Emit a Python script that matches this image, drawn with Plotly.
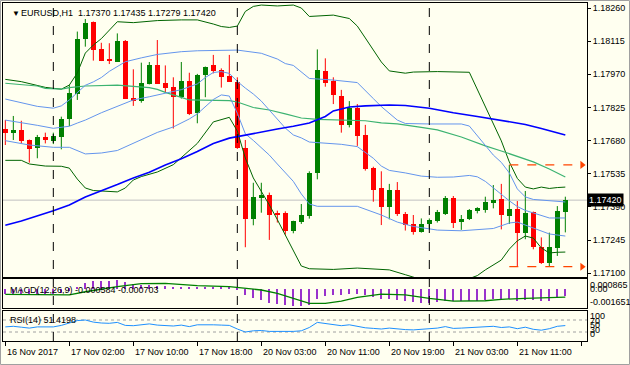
import plotly.graph_objects as go

# ---------------- data ----------------
bars = list(range(71))
open_ = [1.17730, 1.17715, 1.17727, 1.17683, 1.17649, 1.17697, 1.17680, 1.17697, 1.17773, 1.17884,
         1.18123, 1.18199, 1.18079, 1.18036, 1.18025, 1.18117, 1.17867, 1.17855, 1.17928, 1.18011,
         1.17931, 1.17913, 1.17870, 1.17939, 1.17802, 1.17967, 1.18011, 1.17989, 1.17963, 1.17938,
         1.17647, 1.17336, 1.17429, 1.17441, 1.17365, 1.17365, 1.17284, 1.17326, 1.17351, 1.17537,
         1.17986, 1.17941, 1.17875, 1.17749, 1.17824, 1.17705, 1.17562, 1.17472, 1.17392, 1.17464,
         1.17359, 1.17316, 1.17282, 1.17316, 1.17330, 1.17359, 1.17429, 1.17326, 1.17338, 1.17374,
         1.17377, 1.17409, 1.17425, 1.17352, 1.17381, 1.17278, 1.17368, 1.17215, 1.17147, 1.17212,
         1.17370]
high = [1.17770, 1.17788, 1.17767, 1.17685, 1.17705, 1.17715, 1.17715, 1.17785, 1.17923, 1.18157,
        1.18212, 1.18201, 1.18108, 1.18106, 1.18149, 1.18120, 1.17992, 1.18021, 1.18024, 1.18120,
        1.18009, 1.17957, 1.18024, 1.17977, 1.17972, 1.18004, 1.18055, 1.17996, 1.18055, 1.17957,
        1.17683, 1.17496, 1.17496, 1.17453, 1.17374, 1.17371, 1.17330, 1.17403, 1.17546, 1.18079,
        1.18040, 1.17957, 1.17902, 1.17853, 1.17840, 1.17749, 1.17566, 1.17546, 1.17491, 1.17499,
        1.17368, 1.17355, 1.17340, 1.17340, 1.17377, 1.17438, 1.17438, 1.17355, 1.17381, 1.17389,
        1.17435, 1.17486, 1.17491, 1.17574, 1.17416, 1.17460, 1.17370, 1.17257, 1.17278, 1.17394,
        1.17435]
low = [1.17661, 1.17683, 1.17668, 1.17584, 1.17603, 1.17668, 1.17665, 1.17642, 1.17744, 1.17858,
       1.18091, 1.18030, 1.18028, 1.18015, 1.18025, 1.17862, 1.17832, 1.17846, 1.17926, 1.17928,
       1.17890, 1.17733, 1.17864, 1.17792, 1.17756, 1.17870, 1.17974, 1.17912, 1.17938, 1.17644,
       1.17214, 1.17310, 1.17365, 1.17246, 1.17322, 1.17269, 1.17275, 1.17316, 1.17339, 1.17511,
       1.17916, 1.17840, 1.17715, 1.17738, 1.17657, 1.17549, 1.17413, 1.17311, 1.17336, 1.17351,
       1.17287, 1.17269, 1.17278, 1.17292, 1.17322, 1.17355, 1.17298, 1.17290, 1.17333, 1.17362,
       1.17365, 1.17384, 1.17292, 1.17316, 1.17132, 1.17249, 1.17205, 1.17141, 1.17129, 1.17176,
       1.17279]
close = [1.17715, 1.17727, 1.17680, 1.17645, 1.17697, 1.17683, 1.17700, 1.17776, 1.17887, 1.18123,
         1.18193, 1.18076, 1.18030, 1.18027, 1.18114, 1.17864, 1.17855, 1.17931, 1.18011, 1.17928,
         1.17910, 1.17870, 1.17939, 1.17797, 1.17967, 1.18001, 1.17986, 1.17960, 1.17938, 1.17647,
         1.17336, 1.17432, 1.17441, 1.17357, 1.17359, 1.17284, 1.17330, 1.17355, 1.17537, 1.17989,
         1.17934, 1.17878, 1.17749, 1.17824, 1.17700, 1.17555, 1.17464, 1.17392, 1.17464, 1.17359,
         1.17313, 1.17281, 1.17316, 1.17333, 1.17370, 1.17429, 1.17322, 1.17338, 1.17377, 1.17384,
         1.17412, 1.17421, 1.17355, 1.17381, 1.17278, 1.17365, 1.17217, 1.17144, 1.17215, 1.17372,
         1.17420]

# Bollinger lines (outer = dark green, inner = light blue), moving averages
bb_outer_up_x = [0, 2, 5, 7, 8, 9, 10, 11, 12, 13, 14, 16, 19, 22, 24, 26, 27, 28, 29, 30, 31, 32, 34, 36, 37,
                 38, 40, 41, 43, 44, 45, 46, 47, 48, 50, 51, 54, 58, 59, 60, 61, 62, 63, 64, 65, 66, 67, 68, 69, 70]
bb_outer_up = [1.17948, 1.17938, 1.17913, 1.17905, 1.17923, 1.17976, 1.18063, 1.18098, 1.18126, 1.18161,
               1.18200, 1.18196, 1.18205, 1.18208, 1.18208, 1.18190, 1.18179, 1.18175, 1.18181, 1.18245,
               1.18267, 1.18273, 1.18269, 1.18273, 1.18260, 1.18223, 1.18229, 1.18229, 1.18214, 1.18181,
               1.18129, 1.18076, 1.18024, 1.17985, 1.17975, 1.17980, 1.17982, 1.17979, 1.17904, 1.17829,
               1.17753, 1.17679, 1.17587, 1.17515, 1.17477, 1.17469, 1.17477, 1.17471, 1.17475, 1.17477]
bb_outer_dn_x = [0, 2, 3, 5, 7, 8, 9, 10, 11, 13, 14, 15, 16, 17, 19, 21, 22, 23, 24, 26, 28, 29, 30, 31, 32,
                 33, 34, 35, 36, 37, 38, 41, 44, 47, 48, 50, 51, 53, 55, 57, 58, 59, 60, 61, 62, 63, 64, 65,
                 66, 67, 68, 69, 70]
bb_outer_dn = [1.17594, 1.17594, 1.17578, 1.17569, 1.17568, 1.17560, 1.17512, 1.17473, 1.17462, 1.17458,
               1.17456, 1.17473, 1.17508, 1.17523, 1.17543, 1.17575, 1.17606, 1.17639, 1.17668, 1.17762,
               1.17782, 1.17722, 1.17604, 1.17517, 1.17460, 1.17399, 1.17335, 1.17268, 1.17198, 1.17132,
               1.17120, 1.17117, 1.17123, 1.17116, 1.17115, 1.17094, 1.17082, 1.17062, 1.17053, 1.17066,
               1.17077, 1.17090, 1.17115, 1.17136, 1.17158, 1.17206, 1.17242, 1.17263, 1.17254, 1.17211,
               1.17189, 1.17192, 1.17193]
bb_inner_up_x = [0, 2, 4, 6, 7, 8, 9, 10, 11, 12, 13, 14, 15, 17, 19, 22, 24, 29, 32, 34, 35, 36, 37, 38, 41,
                 44, 46, 47, 49, 50, 53, 57, 58, 59, 60, 61, 62, 63, 64, 65, 66, 68, 70]
bb_inner_up = [1.17862, 1.17847, 1.17830, 1.17822, 1.17832, 1.17858, 1.17888, 1.17922, 1.17937, 1.17956,
               1.17983, 1.18004, 1.18025, 1.18042, 1.18057, 1.18069, 1.18073, 1.18076, 1.18062, 1.18037,
               1.18017, 1.18009, 1.17981, 1.17952, 1.17945, 1.17934, 1.17864, 1.17829, 1.17770, 1.17755,
               1.17753, 1.17753, 1.17744, 1.17700, 1.17657, 1.17617, 1.17585, 1.17539, 1.17469, 1.17434,
               1.17423, 1.17416, 1.17412]
bb_mid_x = [0, 2, 4, 6, 8, 9, 10, 12, 14, 16, 18, 20, 22, 24, 25, 26, 27, 28, 29, 30, 31, 32, 33, 34, 35, 36,
            37, 38, 40, 42, 44, 45, 46, 47, 48, 50, 52, 54, 56, 58, 59, 60, 61, 62, 63, 64, 65, 66, 67, 68, 70]
bb_mid = [1.17770, 1.17760, 1.17747, 1.17734, 1.17743, 1.17757, 1.17770, 1.17802, 1.17830, 1.17858,
          1.17872, 1.17886, 1.17903, 1.17928, 1.17956, 1.17978, 1.17982, 1.17974, 1.17939, 1.17910,
          1.17884, 1.17853, 1.17814, 1.17775, 1.17735, 1.17705, 1.17692, 1.17674, 1.17668, 1.17664,
          1.17654, 1.17627, 1.17603, 1.17569, 1.17550, 1.17539, 1.17525, 1.17520, 1.17521, 1.17528,
          1.17522, 1.17502, 1.17473, 1.17447, 1.17417, 1.17392, 1.17375, 1.17364, 1.17352, 1.17342,
          1.17342]
bb_inner_dn_x = [0, 3, 6, 8, 10, 12, 14, 16, 17, 19, 21, 23, 24, 25, 26, 27, 28, 29, 30, 31, 32, 33, 34, 35,
                 36, 37, 38, 39, 44, 47, 49, 51, 54, 57, 59, 61, 63, 64, 66, 68, 70]
bb_inner_dn = [1.17680, 1.17661, 1.17651, 1.17651, 1.17622, 1.17626, 1.17637, 1.17668, 1.17687, 1.17716,
               1.17740, 1.17775, 1.17797, 1.17829, 1.17860, 1.17880, 1.17875, 1.17800, 1.17710, 1.17681,
               1.17648, 1.17617, 1.17578, 1.17539, 1.17502, 1.17447, 1.17403, 1.17393, 1.17393, 1.17355,
               1.17324, 1.17305, 1.17289, 1.17286, 1.17292, 1.17296, 1.17320, 1.17324, 1.17298, 1.17272,
               1.17263]
ma_green_x = [0, 4, 5, 7, 8, 10, 14, 16, 18, 19, 20, 22, 23, 28, 29, 31, 33, 35, 37, 39, 41, 43, 45, 47, 49,
              52, 54, 57, 60, 62, 64, 66, 68, 70]
ma_green = [1.17931, 1.17919, 1.17909, 1.17905, 1.17912, 1.17919, 1.17923, 1.17919, 1.17912, 1.17904,
            1.17891, 1.17869, 1.17858, 1.17855, 1.17849, 1.17825, 1.17814, 1.17797, 1.17779, 1.17773,
            1.17772, 1.17769, 1.17767, 1.17758, 1.17753, 1.17738, 1.17727, 1.17696, 1.17657, 1.17635,
            1.17611, 1.17587, 1.17556, 1.17521]
ma_blue_x = [0, 2, 6, 8, 10, 12, 14, 16, 18, 20, 22, 24, 26, 28, 30, 32, 34, 36, 38, 40, 41, 43, 45, 48, 50,
             53, 56, 59, 62, 65, 67, 69, 70]
ma_blue = [1.17310, 1.17329, 1.17374, 1.17399, 1.17434, 1.17460, 1.17488, 1.17517, 1.17542, 1.17574,
           1.17601, 1.17633, 1.17668, 1.17691, 1.17705, 1.17719, 1.17731, 1.17743, 1.17757, 1.17786,
           1.17810, 1.17827, 1.17832, 1.17836, 1.17834, 1.17822, 1.17802, 1.17786, 1.17769, 1.17751,
           1.17733, 1.17714, 1.17705]

# MACD(12,26,9)
macd_main = [-0.00045, -0.00044, -0.00045, -0.00050, -0.00048, -0.00047, -0.00044, -0.00035, -0.00015, 0.00020,
             0.00050, 0.00065, 0.00070, 0.00072, 0.00078, 0.00060, 0.00040, 0.00032, 0.00032, 0.00028,
             0.00025, 0.00020, 0.00020, 0.00014, 0.00015, 0.00017, 0.00018, 0.00016, 0.00012, -0.00010,
             -0.00055, -0.00080, -0.00098, -0.00118, -0.00130, -0.00142, -0.00150, -0.00152, -0.00140, -0.00090,
             -0.00065, -0.00050, -0.00048, -0.00040, -0.00042, -0.00055, -0.00070, -0.00085, -0.00090, -0.00098,
             -0.00108, -0.00115, -0.00118, -0.00118, -0.00115, -0.00105, -0.00108, -0.00108, -0.00104, -0.00100,
             -0.00095, -0.00090, -0.00092, -0.00090, -0.00100, -0.00095, -0.00098, -0.00105, -0.00100, -0.00080,
             -0.000584]
macd_signal_x = [0, 8, 10, 12, 14, 17, 20, 24, 28, 32, 34, 38, 40, 42, 44, 47, 50, 53, 56, 60, 62, 65, 70]
macd_signal = [-0.00047, -0.00052, -0.00024, 0.0, 0.00020, 0.00046, 0.00049, 0.00029, 0.00020, -0.00009,
               -0.00038, -0.00125, -0.00125, -0.00105, -0.00073, -0.00044, -0.00052, -0.00081, -0.00105, -0.00102,
               -0.00090, -0.00081, -0.000703]

# RSI(14)
rsi = [47, 49, 46, 43, 47, 46, 47, 52, 60, 68, 70, 63, 60, 59, 62, 52, 51, 54, 57, 53,
       52, 50, 53, 48, 54, 55, 54, 53, 52, 40, 30, 34, 35, 32, 32, 30, 32, 34, 45, 62,
       59, 56, 51, 54, 49, 44, 42, 40, 43, 40, 38, 37, 39, 40, 43, 48, 42, 43, 45, 46,
       48, 49, 45, 47, 41, 46, 39, 36, 41, 49, 51.4198]
rsi_levels = [70, 30]

day_starts = [6, 29, 53]
tick_bars = [0, 8, 16, 24, 32, 40, 48, 56, 64, 72]
tick_text = ["16 Nov 2017", "17 Nov 02:00", "17 Nov 10:00", "17 Nov 18:00", "20 Nov 03:00",
             "20 Nov 11:00", "20 Nov 19:00", "21 Nov 03:00", "21 Nov 11:00", ""]
price_ticks = [1.18260, 1.18115, 1.17970, 1.17825, 1.17680, 1.17535, 1.17390, 1.17245, 1.17100]
hl_levels = [1.17574, 1.17129]
hl_start = 63
last_price = 1.17420

# ---------------- figure ----------------
FONT = "Liberation Sans"
FS = 9
BG = "#FFFFF0"
GREEN = "#008000"
RED = "#FF0000"

fig = go.Figure()

# candle wicks
for cond, col in ((True, GREEN), (False, RED)):
    wx, wy = [], []
    for i in bars:
        if (close[i] >= open_[i]) == cond:
            wx += [i, i, None]
            wy += [low[i], high[i], None]
    fig.add_trace(go.Scatter(x=wx, y=wy, mode="lines", line=dict(color=col, width=1),
                             hoverinfo="skip", showlegend=False, xaxis="x", yaxis="y"))

# candle bodies
base = [min(o, c) for o, c in zip(open_, close)]
height = [max(abs(c - o), 0.00003) for o, c in zip(open_, close)]
colors = [GREEN if c >= o else RED for o, c in zip(open_, close)]
fig.add_trace(go.Bar(x=bars, y=height, base=base, width=0.6, marker=dict(color=colors, line=dict(width=0)),
                     showlegend=False, xaxis="x", yaxis="y"))

def line(xs, ys, col, w):
    fig.add_trace(go.Scatter(x=xs, y=ys, mode="lines", line=dict(color=col, width=w),
                             hoverinfo="skip", showlegend=False, xaxis="x", yaxis="y"))

line(bb_outer_up_x, bb_outer_up, "#006400", 1)
line(bb_outer_dn_x, bb_outer_dn, "#006400", 1)
line(ma_green_x, ma_green, "#3CB371", 1.2)
line(bb_inner_up_x, bb_inner_up, "#6495ED", 1)
line(bb_mid_x, bb_mid, "#6495ED", 1)
line(bb_inner_dn_x, bb_inner_dn, "#6495ED", 1)
line(ma_blue_x, ma_blue, "#0000FF", 1.6)

# high/low dashed arrows
for lvl in hl_levels:
    fig.add_trace(go.Scatter(x=[hl_start, 71.9], y=[lvl, lvl], mode="lines",
                             line=dict(color="#FF4500", width=1.2, dash="dash"),
                             hoverinfo="skip", showlegend=False, xaxis="x", yaxis="y"))
    fig.add_trace(go.Scatter(x=[72.1], y=[lvl], mode="markers",
                             marker=dict(symbol="triangle-right", size=7, color="#FF4500"),
                             hoverinfo="skip", showlegend=False, xaxis="x", yaxis="y", cliponaxis=False))

# MACD
fig.add_trace(go.Bar(x=bars, y=macd_main, width=0.2, marker=dict(color="#9932CC", line=dict(width=0)),
                     showlegend=False, xaxis="x2", yaxis="y2"))
fig.add_trace(go.Scatter(x=macd_signal_x, y=macd_signal, mode="lines", line=dict(color=GREEN, width=1.3),
                         showlegend=False, xaxis="x2", yaxis="y2"))

# RSI
fig.add_trace(go.Scatter(x=bars, y=rsi, mode="lines", line=dict(color="#1E90FF", width=1),
                         showlegend=False, xaxis="x3", yaxis="y3"))

# layout geometry (pixels)
W, H = 630, 365
left_px, right_px = 3, 587
top_px, bot_px = 3, 341
span = bot_px - top_px
wspan = right_px - left_px
def py(px):
    return (bot_px - px) / span
def px_(p):
    return (p - left_px) / wspan

xr = [-0.29, 72.71]
axis_common = dict(showgrid=False, zeroline=False, showline=True, mirror=True, linecolor="black",
                   linewidth=1, range=xr, fixedrange=True, automargin=False)
yax_common = dict(side="right", showgrid=False, zeroline=False, showline=True, mirror=True,
                  linecolor="black", linewidth=1, automargin=False, fixedrange=True)
fig.update_layout(
    template="none",
    width=W, height=H,
    margin=dict(l=left_px, r=W - right_px, t=top_px, b=H - bot_px, autoexpand=False),
    paper_bgcolor=BG, plot_bgcolor=BG,
    barmode="overlay", bargap=0, showlegend=False,
    font=dict(family=FONT, size=FS, color="black"),
    xaxis=dict(domain=[0, 1], anchor="y", showticklabels=False, ticks="", **axis_common),
    xaxis2=dict(domain=[0, 1], anchor="y2", showticklabels=False, ticks="", matches="x", **axis_common),
    xaxis3=dict(domain=[0, 1], anchor="y3", showticklabels=False, ticks="outside", ticklen=4,
                tickcolor="black", tickvals=tick_bars, matches="x", **axis_common),
    yaxis=dict(domain=[py(277), 1], range=[1.170839, 1.182819], tickvals=price_ticks,
               ticktext=[f"{v:.5f}" for v in price_ticks], ticks="outside", ticklen=3, tickcolor="black",
               tickfont=dict(size=FS, family=FONT), **yax_common),
    yaxis2=dict(domain=[py(308), py(279)], range=[-0.001651, 0.000865], showticklabels=False, ticks="",
                **yax_common),
    yaxis3=dict(domain=[0, py(311)], range=[0, 100], showticklabels=False, ticks="", **yax_common),
)

shapes = []
for d in day_starts:
    shapes.append(dict(type="line", xref="x", yref="paper", x0=d, x1=d, y0=0, y1=1,
                       line=dict(color="black", width=1, dash="dash")))
shapes.append(dict(type="line", xref="paper", yref="y", x0=0, x1=1, y0=last_price, y1=last_price,
                   line=dict(color="#C0C0C0", width=1), layer="below"))
for lv in rsi_levels:
    shapes.append(dict(type="line", xref="paper", yref="y3", x0=0, x1=1, y0=lv, y1=lv,
                       line=dict(color="#A0A0A0", width=1, dash="dot"), layer="below"))
# outer window frame
shapes.append(dict(type="rect", xref="paper", yref="paper", x0=px_(0.5), x1=px_(629.5),
                   y0=py(364.5), y1=py(0.5), line=dict(color="#A0A0A0", width=1)))
fig.update_layout(shapes=shapes)

ann = []
ann.append(dict(text="▼", x=px_(10), y=py(13), xref="paper", yref="paper", showarrow=False,
                xanchor="left", yanchor="middle", font=dict(size=8)))
ann.append(dict(text="EURUSD,H1  1.17370 1.17435 1.17279 1.17420", x=px_(19), y=py(13),
                xref="paper", yref="paper", showarrow=False, xanchor="left", yanchor="middle"))
ann.append(dict(text="MACD(12,26,9) -0.000584 -0.000703", x=px_(8), y=py(290), xref="paper",
                yref="paper", showarrow=False, xanchor="left", yanchor="middle"))
ann.append(dict(text="RSI(14) 51.4198", x=px_(8), y=py(320), xref="paper", yref="paper",
                showarrow=False, xanchor="left", yanchor="middle"))
ann.append(dict(text="1.17420", x=1, y=last_price, xref="paper", yref="y", showarrow=False,
                xanchor="left", yanchor="middle", bgcolor="black", font=dict(color="white", size=FS),
                borderpad=1, xshift=0))
for txt, ypx in (("0.000865", 285), ("0.00", 289), ("-0.001651", 302)):
    ann.append(dict(text=txt, x=1, y=py(ypx), xref="paper", yref="paper", showarrow=False,
                    xanchor="left", yanchor="middle", xshift=1))
for txt, ypx in (("100", 316), ("70", 321), ("50", 325), ("30", 330), ("0", 334)):
    ann.append(dict(text=txt, x=1, y=py(ypx), xref="paper", yref="paper", showarrow=False,
                    xanchor="left", yanchor="middle", xshift=1))
for b, t in zip(tick_bars, tick_text):
    if t:
        ann.append(dict(text=t, x=b, y=py(352), xref="x3", yref="paper", showarrow=False,
                        xanchor="left", yanchor="middle", xshift=0))
fig.update_layout(annotations=ann)

fig.write_html("out.html", config={"displayModeBar": False},
               post_script="document.body.style.margin='0px';document.body.style.background='#FFFFF0';")
